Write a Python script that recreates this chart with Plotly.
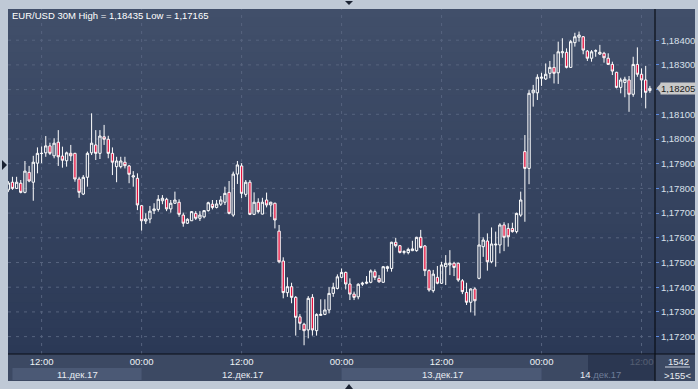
import pandas as pd
import plotly.graph_objects as go

# ---------------- data (EUR/USD, 30M candles) ----------------
start_time = "2017-12-11 08:00"
n_candles = 155
times = pd.date_range(start_time, periods=n_candles, freq="30min")

opens = [1.17794, 1.17825, 1.17800, 1.17821, 1.17784, 1.17865, 1.17825, 1.17902,
         1.17941, 1.17944, 1.17972, 1.17932, 1.17987, 1.17931, 1.17912, 1.17942,
         1.17942, 1.17838, 1.17777, 1.17845, 1.17944, 1.17976, 1.17942, 1.18009,
         1.17999, 1.17942, 1.17888, 1.17888, 1.17906, 1.17891, 1.17846, 1.17841,
         1.17730, 1.17668, 1.17676, 1.17710, 1.17715, 1.17750, 1.17756, 1.17717,
         1.17740, 1.17744, 1.17692, 1.17659, 1.17669, 1.17699, 1.17679, 1.17685,
         1.17710, 1.17736, 1.17723, 1.17736, 1.17744, 1.17784, 1.17692, 1.17858,
         1.17891, 1.17776, 1.17825, 1.17695, 1.17744, 1.17696, 1.17753, 1.17733,
         1.17740, 1.17627, 1.17506, 1.17378, 1.17402, 1.17359, 1.17280, 1.17250,
         1.17227, 1.17359, 1.17224, 1.17286, 1.17290, 1.17308, 1.17375, 1.17395,
         1.17440, 1.17460, 1.17413, 1.17372, 1.17361, 1.17412, 1.17416, 1.17420,
         1.17463, 1.17436, 1.17420, 1.17476, 1.17476, 1.17582, 1.17568, 1.17541,
         1.17540, 1.17548, 1.17548, 1.17602, 1.17567, 1.17467, 1.17386, 1.17440,
         1.17416, 1.17483, 1.17490, 1.17497, 1.17497, 1.17426, 1.17379, 1.17339,
         1.17393, 1.17436, 1.17564, 1.17587, 1.17503, 1.17571, 1.17571, 1.17652,
         1.17638, 1.17638, 1.17625, 1.17692, 1.17949, 1.17881, 1.18187, 1.18187,
         1.18246, 1.18243, 1.18266, 1.18290, 1.18268, 1.18349, 1.18351, 1.18290,
         1.18390, 1.18412, 1.18414, 1.18356, 1.18327, 1.18356, 1.18344, 1.18347,
         1.18327, 1.18302, 1.18270, 1.18209, 1.18229, 1.18239, 1.18181, 1.18302,
         1.18262, 1.18239, 1.18196]

highs = [1.17830, 1.17847, 1.17847, 1.17834, 1.17911, 1.17891, 1.17932, 1.17966,
         1.17970, 1.18012, 1.17985, 1.18003, 1.18036, 1.17969, 1.17949, 1.17976,
         1.17944, 1.17847, 1.17854, 1.17949, 1.18104, 1.18036, 1.18036, 1.18057,
         1.18013, 1.17966, 1.17928, 1.17928, 1.17928, 1.17895, 1.17870, 1.17861,
         1.17733, 1.17699, 1.17729, 1.17740, 1.17773, 1.17773, 1.17762, 1.17753,
         1.17787, 1.17756, 1.17702, 1.17679, 1.17708, 1.17708, 1.17708, 1.17712,
         1.17746, 1.17753, 1.17753, 1.17769, 1.17807, 1.17830, 1.17868, 1.17911,
         1.17902, 1.17834, 1.17834, 1.17784, 1.17760, 1.17762, 1.17783, 1.17746,
         1.17742, 1.17652, 1.17521, 1.17440, 1.17418, 1.17364, 1.17291, 1.17256,
         1.17364, 1.17372, 1.17294, 1.17351, 1.17351, 1.17400, 1.17418, 1.17452,
         1.17476, 1.17463, 1.17436, 1.17382, 1.17416, 1.17422, 1.17445, 1.17472,
         1.17472, 1.17449, 1.17486, 1.17487, 1.17584, 1.17600, 1.17571, 1.17550,
         1.17560, 1.17588, 1.17604, 1.17632, 1.17571, 1.17472, 1.17470, 1.17486,
         1.17503, 1.17530, 1.17550, 1.17503, 1.17499, 1.17433, 1.17418, 1.17395,
         1.17400, 1.17699, 1.17602, 1.17618, 1.17642, 1.17625, 1.17659, 1.17663,
         1.17659, 1.17661, 1.17702, 1.17787, 1.18016, 1.18198, 1.18219, 1.18262,
         1.18268, 1.18306, 1.18316, 1.18343, 1.18394, 1.18408, 1.18367, 1.18401,
         1.18430, 1.18435, 1.18417, 1.18360, 1.18360, 1.18363, 1.18381, 1.18353,
         1.18347, 1.18313, 1.18272, 1.18248, 1.18252, 1.18255, 1.18333, 1.18371,
         1.18286, 1.18296, 1.18215]

lows = [1.17785, 1.17794, 1.17798, 1.17780, 1.17780, 1.17825, 1.17750, 1.17861,
        1.17902, 1.17928, 1.17935, 1.17922, 1.17891, 1.17884, 1.17888, 1.17911,
        1.17827, 1.17762, 1.17773, 1.17807, 1.17935, 1.17915, 1.17919, 1.17976,
        1.17922, 1.17854, 1.17825, 1.17881, 1.17881, 1.17821, 1.17807, 1.17712,
        1.17629, 1.17656, 1.17659, 1.17696, 1.17706, 1.17736, 1.17708, 1.17702,
        1.17737, 1.17685, 1.17645, 1.17656, 1.17668, 1.17672, 1.17668, 1.17679,
        1.17706, 1.17715, 1.17719, 1.17729, 1.17733, 1.17695, 1.17685, 1.17818,
        1.17760, 1.17766, 1.17692, 1.17692, 1.17699, 1.17695, 1.17723, 1.17685,
        1.17638, 1.17497, 1.17355, 1.17361, 1.17335, 1.17204, 1.17227, 1.17165,
        1.17193, 1.17204, 1.17204, 1.17285, 1.17287, 1.17294, 1.17361, 1.17391,
        1.17436, 1.17391, 1.17348, 1.17348, 1.17351, 1.17405, 1.17412, 1.17416,
        1.17429, 1.17418, 1.17418, 1.17463, 1.17463, 1.17561, 1.17537, 1.17533,
        1.17533, 1.17546, 1.17544, 1.17557, 1.17445, 1.17382, 1.17378, 1.17412,
        1.17413, 1.17409, 1.17449, 1.17445, 1.17422, 1.17372, 1.17328, 1.17298,
        1.17285, 1.17432, 1.17523, 1.17467, 1.17497, 1.17483, 1.17537, 1.17546,
        1.17564, 1.17621, 1.17618, 1.17685, 1.17665, 1.17817, 1.18131, 1.18158,
        1.18215, 1.18239, 1.18246, 1.18225, 1.18223, 1.18329, 1.18286, 1.18289,
        1.18374, 1.18394, 1.18343, 1.18316, 1.18313, 1.18333, 1.18340, 1.18309,
        1.18300, 1.18259, 1.18205, 1.18185, 1.18169, 1.18110, 1.18171, 1.18252,
        1.18167, 1.18124, 1.18187]

closes = [1.17822, 1.17800, 1.17825, 1.17784, 1.17870, 1.17830, 1.17906, 1.17942,
          1.17942, 1.17972, 1.17942, 1.17983, 1.17928, 1.17914, 1.17944, 1.17932,
          1.17838, 1.17784, 1.17845, 1.17942, 1.17983, 1.17942, 1.18012, 1.17999,
          1.17942, 1.17906, 1.17911, 1.17911, 1.17892, 1.17857, 1.17851, 1.17733,
          1.17669, 1.17676, 1.17708, 1.17717, 1.17756, 1.17760, 1.17717, 1.17740,
          1.17753, 1.17695, 1.17659, 1.17675, 1.17706, 1.17679, 1.17692, 1.17710,
          1.17742, 1.17723, 1.17737, 1.17753, 1.17780, 1.17699, 1.17858, 1.17895,
          1.17780, 1.17825, 1.17695, 1.17744, 1.17706, 1.17744, 1.17733, 1.17744,
          1.17672, 1.17503, 1.17378, 1.17402, 1.17359, 1.17278, 1.17254, 1.17224,
          1.17355, 1.17227, 1.17290, 1.17290, 1.17308, 1.17375, 1.17400, 1.17442,
          1.17460, 1.17413, 1.17372, 1.17359, 1.17412, 1.17416, 1.17420, 1.17466,
          1.17440, 1.17422, 1.17483, 1.17483, 1.17582, 1.17568, 1.17541, 1.17544,
          1.17553, 1.17555, 1.17602, 1.17561, 1.17467, 1.17389, 1.17453, 1.17416,
          1.17490, 1.17497, 1.17497, 1.17480, 1.17429, 1.17382, 1.17339, 1.17393,
          1.17345, 1.17571, 1.17591, 1.17503, 1.17575, 1.17574, 1.17652, 1.17602,
          1.17604, 1.17625, 1.17699, 1.17753, 1.17881, 1.18185, 1.18198, 1.18250,
          1.18250, 1.18262, 1.18290, 1.18266, 1.18353, 1.18353, 1.18290, 1.18394,
          1.18414, 1.18421, 1.18360, 1.18327, 1.18353, 1.18357, 1.18351, 1.18329,
          1.18302, 1.18275, 1.18209, 1.18239, 1.18242, 1.18181, 1.18302, 1.18262,
          1.18239, 1.18189, 1.18205]

price_ticks = [1.172, 1.173, 1.174, 1.175, 1.176, 1.177, 1.178, 1.179,
               1.180, 1.181, 1.182, 1.183, 1.184]
time_ticks = ["2017-12-11 12:00", "2017-12-12 00:00", "2017-12-12 12:00",
              "2017-12-13 00:00", "2017-12-13 12:00", "2017-12-14 00:00",
              "2017-12-14 12:00"]
time_tick_labels = ["12:00", "00:00", "12:00", "00:00", "12:00", "00:00", "12:00"]
day_labels = ["11.дек.17", "12.дек.17", "13.дек.17", "14.дек.17"]
title_text = "EUR/USD 30M High = 1,18435 Low = 1,17165"
bar_count_text = "1542"
visible_bars_text = ">155<"

# ---------------- layout geometry (pixels) ----------------
W, H = 698, 389
PL, PR, PT, PB = 8, 655, 9, 354          # plot area
x_min = pd.Timestamp("2017-12-11 07:58")
x_max = pd.Timestamp("2017-12-14 13:37")
y_min, y_max = 1.171296, 1.185263


def px(x):
    return (x - PL) / (PR - PL)


def py(y):
    return (PB - y) / (PB - PT)


def tx(t):
    t = pd.Timestamp(t)
    return (t - x_min) / (x_max - x_min)


def pr(p):
    return (p - y_min) / (y_max - y_min)


def lerp(c1, c2, f):
    return "rgb(%d,%d,%d)" % tuple(round(a + (b - a) * f) for a, b in zip(c1, c2))


FONT = "Liberation Sans, Arial, sans-serif"
GRID = "#56637e"
GRID_DASH = "3px,5px"

fig = go.Figure()
fig.add_trace(go.Candlestick(
    x=times, open=opens, high=highs, low=lows, close=closes,
    increasing=dict(line=dict(color="#ffffff", width=1), fillcolor="rgba(0,0,0,0)"),
    decreasing=dict(line=dict(color="#ffffff", width=1), fillcolor="#e3123f"),
    whiskerwidth=0, hoverinfo="skip", showlegend=False,
))

shapes = []
# gradient panel background (plot + right price scale); each band runs to the
# bottom so later bands paint over earlier ones without seams
top_c, bot_c = (65, 79, 106), (43, 57, 86)
N = 40
for k in range(N):
    y0 = PT + (PB - PT) * k / N
    shapes.append(dict(type="rect", xref="paper", yref="paper",
                       x0=px(PL), x1=px(695), y0=py(PB), y1=py(y0),
                       fillcolor=lerp(top_c, bot_c, (k + 0.5) / N),
                       line=dict(width=0), layer="below"))
# time axis area
shapes.append(dict(type="rect", xref="paper", yref="paper",
                   x0=px(PL), x1=px(695), y0=py(381), y1=py(PB),
                   fillcolor="#3c4963", line=dict(width=0), layer="below"))
# lighter day bands
for a, b in [(times[1], "2017-12-12 00:00"), ("2017-12-13 00:00", "2017-12-14 00:00")]:
    shapes.append(dict(type="rect", xref="paper", yref="paper",
                       x0=tx(a), x1=tx(b), y0=py(380), y1=py(368),
                       fillcolor="#4b5975", line=dict(width=0), layer="below"))
# dashed grid (drawn between background and candles)
for p in price_ticks:
    shapes.append(dict(type="line", xref="paper", yref="paper",
                       x0=0, x1=1, y0=pr(p), y1=pr(p),
                       line=dict(color=GRID, width=1, dash=GRID_DASH), layer="between"))
for t in time_ticks:
    shapes.append(dict(type="line", xref="paper", yref="paper",
                       x0=tx(t), x1=tx(t), y0=0, y1=1,
                       line=dict(color=GRID, width=1, dash=GRID_DASH), layer="between"))
# dark overlay at right of time axis
shapes.append(dict(type="rect", xref="paper", yref="paper",
                   x0=px(588), x1=px(PR), y0=py(380), y1=py(PB + 1),
                   fillcolor="rgba(38,50,76,0.78)", line=dict(width=0), layer="above"))
# black separator lines
shapes.append(dict(type="line", xref="paper", yref="paper",
                   x0=px(PL), x1=px(695), y0=py(PB), y1=py(PB),
                   line=dict(color="#0b0f17", width=1.2), layer="above"))
shapes.append(dict(type="line", xref="paper", yref="paper",
                   x0=px(PR), x1=px(PR), y0=py(381), y1=py(PT),
                   line=dict(color="#0b0f17", width=1.2), layer="above"))
# small separator in bar-count box
shapes.append(dict(type="line", xref="paper", yref="paper",
                   x0=px(665), x1=px(690), y0=py(367), y1=py(367),
                   line=dict(color="#cfd6e2", width=1), layer="above"))


# decorative arrows on frame
def tri(points, color):
    d = "M " + " L ".join("%f,%f" % (px(a), py(b)) for a, b in points) + " Z"
    return dict(type="path", xref="paper", yref="paper", path=d,
                fillcolor=color, line=dict(width=0), layer="above")


shapes.append(tri([(2, 160), (7, 165), (2, 170)], "#1b2333"))
shapes.append(tri([(345, 1), (353, 1), (349, 5)], "#1b2333"))
shapes.append(tri([(345, 389), (353, 389), (349, 384)], "#1b2333"))
# last price marker arrow
last = closes[-1]
yl = pr(last)
shapes.append(dict(type="path", xref="paper", yref="paper",
                   path="M %f,%f L %f,%f L %f,%f Z" % (
                       px(656.5), yl, px(661), yl + 5 / (PB - PT), px(661), yl - 5 / (PB - PT)),
                   fillcolor="#c9c9c9", line=dict(width=0), layer="above"))

annotations = [
    dict(text=title_text, xref="paper", yref="paper", x=px(10), y=py(15),
         xanchor="left", yanchor="middle", showarrow=False,
         font=dict(family=FONT, size=9.5, color="#ffffff")),
    dict(text=("%.5f" % last).replace(".", ","), xref="paper", yref="paper",
         x=px(660), y=yl, xanchor="left", yanchor="middle", showarrow=False,
         bgcolor="#c9c9c9", borderpad=0,
         font=dict(family=FONT, size=9.5, color="#1a1a1a")),
    dict(text=bar_count_text, xref="paper", yref="paper", x=px(678), y=py(361.5),
         xanchor="center", yanchor="middle", showarrow=False,
         font=dict(family=FONT, size=9.5, color="#e8ecf2")),
    dict(text=visible_bars_text, xref="paper", yref="paper", x=px(677), y=py(375),
         xanchor="center", yanchor="middle", showarrow=False,
         font=dict(family=FONT, size=9.5, color="#e8ecf2")),
]
day_centers = [77, 242, 442]
for lbl, cx in zip(day_labels[:3], day_centers):
    annotations.append(dict(text=lbl, xref="paper", yref="paper", x=px(cx), y=py(374),
                            xanchor="center", yanchor="middle", showarrow=False,
                            font=dict(family=FONT, size=9.5, color="#e8ecf2")))
annotations.append(dict(text=day_labels[3][:2] + "<span style='color:#6e7d98'>" + day_labels[3][2:] + "</span>",
                        xref="paper", yref="paper", x=px(600), y=py(374),
                        xanchor="center", yanchor="middle", showarrow=False,
                        font=dict(family=FONT, size=9.5, color="#e8ecf2")))

fig.update_layout(
    width=W, height=H,
    margin=dict(l=PL, r=W - PR, t=PT, b=H - PB, pad=0),
    paper_bgcolor="#bfc9d6", plot_bgcolor="rgba(0,0,0,0)",
    separators=", ",
    boxgap=0.25, boxgroupgap=0.25,
    shapes=shapes, annotations=annotations,
    showlegend=False, hovermode=False,
    font=dict(family=FONT, size=9.5, color="#e8ecf2"),
    xaxis=dict(type="date", range=[x_min, x_max], rangeslider=dict(visible=False),
               tickvals=time_ticks, ticktext=time_tick_labels,
               showgrid=False, ticks="", ticklen=0, showline=False, zeroline=False,
               tickfont=dict(family=FONT, size=9.5, color="#eef1f5"),
               automargin=False),
    yaxis=dict(side="right", range=[y_min, y_max], tickvals=price_ticks,
               tickformat=".5f", showgrid=False, ticks="outside", ticklen=3,
               tickcolor="#5d8be0", showline=False, zeroline=False,
               tickfont=dict(family=FONT, size=9.5, color="#d9e0ea"),
               automargin=False),
)

fig.write_html("out.html")
